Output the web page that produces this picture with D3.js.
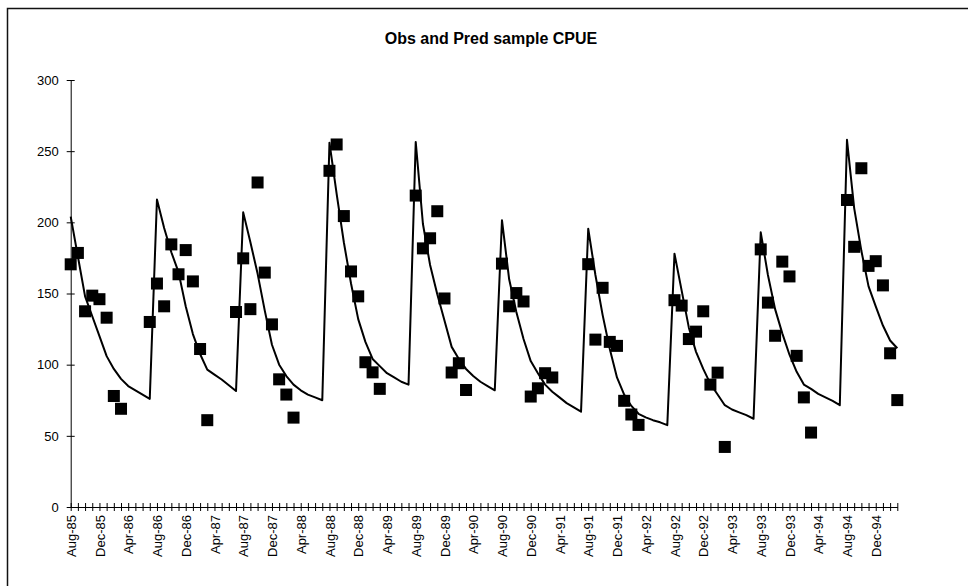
<!DOCTYPE html>
<html><head><meta charset="utf-8">
<script src="https://cdn.jsdelivr.net/npm/d3@7"></script>
<style>
body{margin:0;background:#fff}
svg{display:block}
text{font-family:Arial,"Liberation Sans",sans-serif;fill:#000}
</style>
</head><body>
<svg id="chart" width="968" height="586"></svg>
<script>
// ---- data ----
const title = "Obs and Pred sample CPUE";
const startMonth = new Date(1985, 7, 1);   // Aug-85
const monthCount = 116;                    // Aug-85 .. Mar-95
const tickLabels = ["Aug-85","Dec-85","Apr-86","Aug-86","Dec-86","Apr-87","Aug-87","Dec-87","Apr-88",
  "Aug-88","Dec-88","Apr-89","Aug-89","Dec-89","Apr-90","Aug-90","Dec-90","Apr-91","Aug-91","Dec-91",
  "Apr-92","Aug-92","Dec-92","Apr-93","Aug-93","Dec-93","Apr-94","Aug-94","Dec-94"];
const yTicks = [0, 50, 100, 150, 200, 250, 300];

// predicted CPUE, one value per month
const pred = [
  204, 176, 148, 134, 120, 106, 97, 90, 85, 82, 79, 76,
  216, 196, 179, 165, 141, 121.5, 107.5, 96.5, 93, 89.6, 85.6, 81.5,
  207, 186, 164, 138, 114, 100, 92, 86, 82, 79, 77, 75,
  256, 220, 186, 157, 132, 116, 104, 99, 94, 91, 88, 86,
  256.5, 199, 170, 149.5, 131, 112.5, 104, 97, 92, 88, 85, 82,
  201.5, 160, 137, 118, 102.5, 94, 86, 81, 77, 73, 70, 67,
  195.5, 163, 135, 111, 91, 79, 71, 65.5, 63, 61, 59.5, 57.5,
  178, 152, 126, 109, 97, 86.5, 79, 71.5, 68.5, 66.5, 64.5, 62,
  193, 163, 139, 122, 107, 95, 86, 83, 79.5, 77, 74.5, 71.5,
  258, 210, 180, 155, 141, 127.5, 117, 111.5
];

// observed CPUE (null = no sample that month)
const obs = [
  170.5, 178.5, 137.5, 148.5, 146, 133, 78, 69, null, null, null,
  130, 157, 141, 184.5, 163.5, 180.5, 158.5, 111, 61, null, null, null,
  137, 174.7, 139, 228, 164.7, 128.3, 89.7, 79, 62.8, null, null, null, null,
  236.2, 254.7, 204.4, 165.5, 148, 101.7, 94.6, 83, null, null, null, null,
  218.8, 181.7, 188.8, 207.8, 146.5, 94.5, 101, 82.2, null, null, null, null,
  171, 141, 150.3, 144.4, 77.6, 83.4, 94, 91, null, null, null, null,
  170.6, 117.6, 154, 116, 113.2, 74.6, 65, 57.7, null, null, null, null,
  145.3, 141.5, 118, 123.2, 137.5, 86, 94.4, 42.2, null, null, null, null,
  181, 143.6, 120.3, 172.4, 162, 106.2, 77, 52.3, null, null, null, null,
  215.7, 182.8, 238, 169.4, 172.7, 155.7, 108, 75.1
];

// ---- chart ----
const svg = d3.select("#chart");
const W = 968, H = 586;

const months = d3.timeMonth.range(startMonth, d3.timeMonth.offset(startMonth, monthCount));
const fmt = d3.timeFormat("%b-%y");
const cats = months.map(fmt);

const x = d3.scalePoint().domain(cats).range([70.7, 897.3]);
const y = d3.scaleLinear().domain([0, 300]).range([507, 80]);

// outer frame (top & left edges visible)
svg.append("path")
  .attr("d", `M7.5,${H} V8.5 H${W}`)
  .attr("fill", "none").attr("stroke", "#111").attr("stroke-width", 1.5);

// title
svg.append("text")
  .attr("x", 491).attr("y", 44)
  .attr("text-anchor", "middle")
  .style("font-size", "16px").style("font-weight", "bold")
  .text(title);

// y axis
const yAxis = svg.append("g")
  .attr("transform", `translate(${x(cats[0])},0)`)
  .call(d3.axisLeft(y).tickValues(yTicks).tickSizeInner(4).tickSizeOuter(0).tickPadding(8));
yAxis.select(".domain").attr("stroke", "#000");
yAxis.selectAll(".tick line").attr("x1", 4).attr("x2", -4).attr("stroke", "#000");
yAxis.selectAll(".tick text").style("font-size", "13px").style("font-family", "Arial, 'Liberation Sans', sans-serif");

// x axis
const labelSet = new Set(tickLabels);
const xAxis = svg.append("g")
  .attr("transform", `translate(0,${y(0)})`)
  .call(d3.axisBottom(x).tickValues(cats).tickSizeInner(4).tickSizeOuter(0)
    .tickFormat(d => labelSet.has(d) ? d : ""));
xAxis.select(".domain").attr("stroke", "#000");
xAxis.selectAll(".tick line").attr("y1", -4).attr("y2", 4).attr("stroke", "#000");
xAxis.selectAll(".tick text")
  .style("font-size", "13px").style("font-family", "Arial, 'Liberation Sans', sans-serif")
  .attr("transform", "rotate(-90)")
  .attr("x", -8).attr("y", 0).attr("dy", "0.35em")
  .style("text-anchor", "end");

// predicted line
svg.append("path")
  .datum(pred)
  .attr("fill", "none").attr("stroke", "#000").attr("stroke-width", 2)
  .attr("stroke-linejoin", "round")
  .attr("d", d3.line().x((d, i) => x(cats[i])).y(d => y(d)));

// observed squares
const S = 12;
svg.append("g").selectAll("rect")
  .data(obs.map((v, i) => ({c: cats[i], v})).filter(d => d.v != null))
  .join("rect")
  .attr("x", d => x(d.c) - S / 2).attr("y", d => y(d.v) - S / 2)
  .attr("width", S).attr("height", S).attr("fill", "#000");
</script>
</body></html>
